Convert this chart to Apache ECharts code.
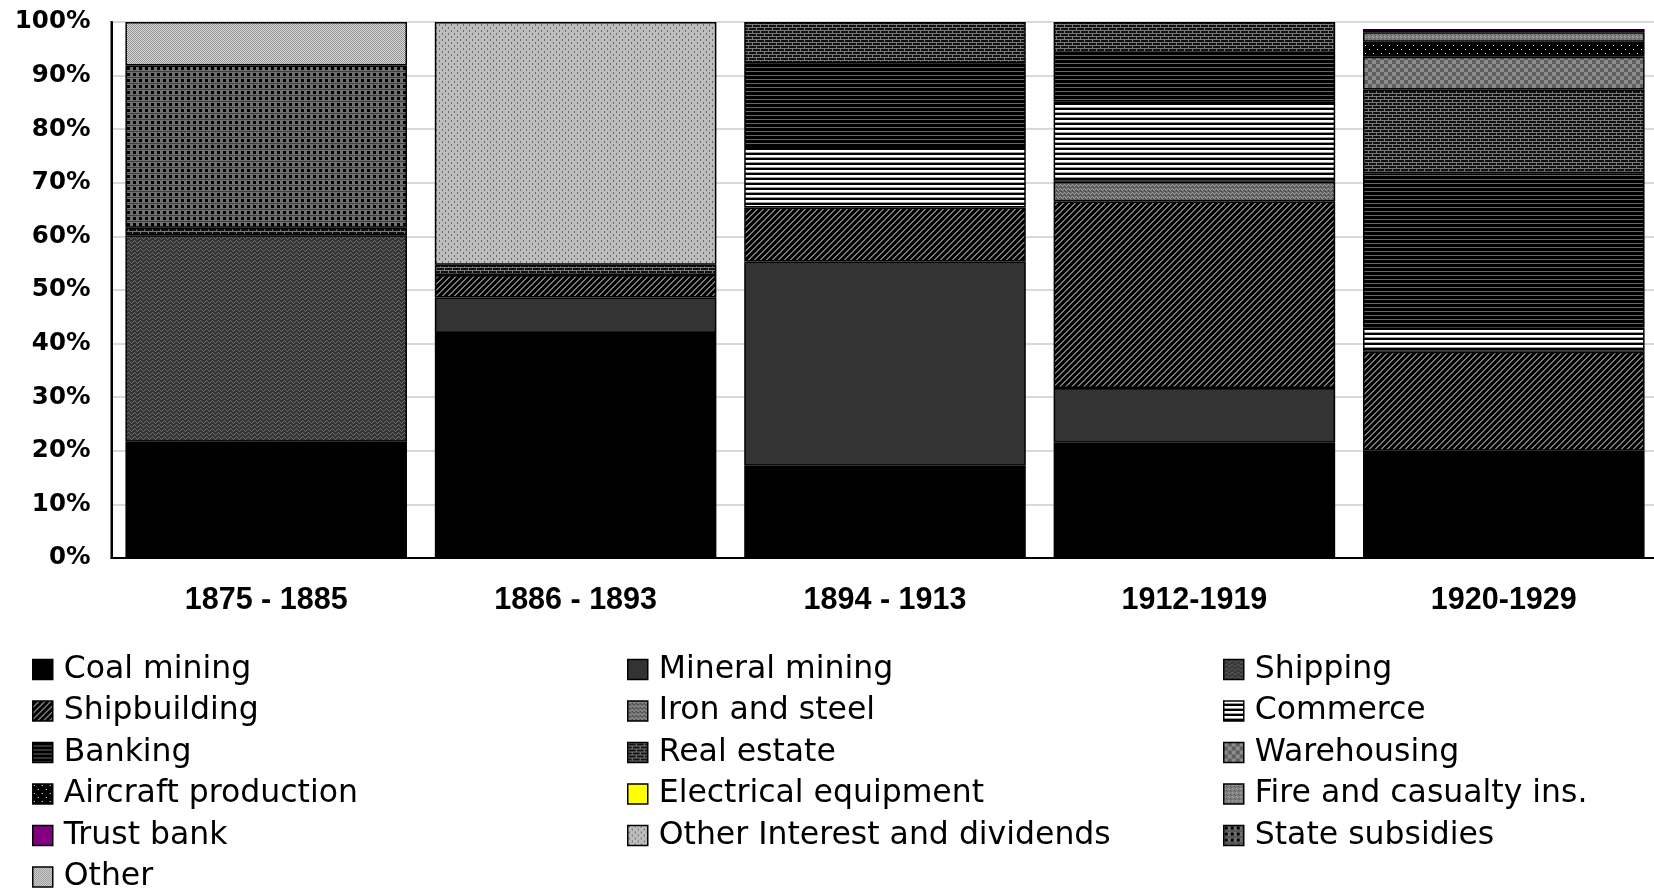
<!DOCTYPE html>
<html>
<head>
<meta charset="utf-8">
<title>Sources of income</title>
<script src="https://cdn.jsdelivr.net/npm/echarts@6/dist/echarts.min.js"></script>
<style>
    html, body { margin: 0; padding: 0; background: #fff; }
    #main { width: 1654px; height: 890px; }
</style>
</head>
<body>
<div id="main"></div>
<script>
// periods on the x axis
var categories = ['1875 - 1885', '1886 - 1893', '1894 - 1913', '1912-1919', '1920-1929'];
var yTicks = [0, 10, 20, 30, 40, 50, 60, 70, 80, 90, 100];

// share of each source, in percent, per period
var coalMining = [21.7, 42.0, 17.2, 21.5, 20.0];
var mineralMining = [0, 6.6, 38.1, 10.2, 0];
var shipping = [38.5, 0, 0, 0, 0];
var shipbuilding = [0, 4.2, 10.1, 34.8, 18.5];
var ironAndSteel = [0, 0, 0, 3.7, 0];
var commerce = [0, 0, 11.1, 14.9, 4.5];
var banking = [0, 0, 15.8, 9.1, 28.8];
var realEstate = [1.4, 1.9, 7.7, 5.8, 15.6];
var warehousing = [0, 0, 0, 0, 6.1];
var aircraftProduction = [0, 0, 0, 0, 2.8];
var electricalEquipment = [0, 0, 0, 0, 0];
var fireCasualty = [0, 0, 0, 0, 1.8];
var trustBank = [0, 0, 0, 0, 0.6];
var otherInterest = [0, 45.3, 0, 0, 0];
var stateSubsidies = [30.3, 0, 0, 0, 0];
var other = [8.1, 0, 0, 0, 0];

var seriesNames = ['Coal mining', 'Mineral mining', 'Shipping', 'Shipbuilding', 'Iron and steel',
    'Commerce', 'Banking', 'Real estate', 'Warehousing', 'Aircraft production',
    'Electrical equipment', 'Fire and casualty ins.', 'Trust bank',
    'Other Interest and dividends', 'State subsidies', 'Other'];
var seriesValues = [coalMining, mineralMining, shipping, shipbuilding, ironAndSteel,
    commerce, banking, realEstate, warehousing, aircraftProduction,
    electricalEquipment, fireCasualty, trustBank, otherInterest, stateSubsidies, other];

// small canvas tiles used as hatch fills (like the Excel patterns)
function tile(w, h, draw) {
    var c = document.createElement('canvas');
    c.width = w;
    c.height = h;
    var ctx = c.getContext('2d');
    draw(ctx);
    return {image: c, repeat: 'repeat'};
}
function px(ctx, color, pts) {
    ctx.fillStyle = color;
    for (var i = 0; i < pts.length; i++) {
        ctx.fillRect(pts[i][0], pts[i][1], pts[i][2] || 1, pts[i][3] || 1);
    }
}

var fills = {
    'Coal mining': '#000000',
    'Mineral mining': '#333333',
    'Shipping': tile(6, 4, function (ctx) {
        px(ctx, '#333333', [[0, 0, 6, 4]]);
        px(ctx, '#6e6e6e', [[0, 2], [1, 1], [2, 0], [3, 1], [4, 2], [5, 3]]);
    }),
    'Shipbuilding': tile(6, 6, function (ctx) {
        px(ctx, '#000000', [[0, 0, 6, 6]]);
        px(ctx, '#7a7a7a', [[5, 0], [4, 1], [3, 2], [2, 3], [1, 4], [0, 5],
            [0, 0], [5, 1], [4, 2], [3, 3], [2, 4], [1, 5]]);
    }),
    'Iron and steel': tile(8, 4, function (ctx) {
        px(ctx, '#666666', [[0, 0, 8, 4]]);
        px(ctx, '#9a9a9a', [[0, 0], [1, 1], [2, 2], [3, 1], [4, 0], [5, 1], [6, 2], [7, 1]]);
        px(ctx, '#4a4a4a', [[0, 2], [1, 3], [4, 2], [5, 3]]);
    }),
    'Commerce': tile(1, 5, function (ctx) {
        px(ctx, '#ffffff', [[0, 0, 1, 2]]);
        px(ctx, '#999999', [[0, 2]]);
        px(ctx, '#000000', [[0, 3, 1, 2]]);
    }),
    'Banking': tile(1, 4, function (ctx) {
        px(ctx, '#000000', [[0, 0, 1, 3]]);
        px(ctx, '#666666', [[0, 3]]);
    }),
    'Real estate': tile(8, 6, function (ctx) {
        px(ctx, '#111111', [[0, 0, 8, 6]]);
        px(ctx, '#7a7a7a', [[0, 0, 8, 1], [0, 3, 8, 1], [0, 1, 1, 2], [4, 4, 1, 2]]);
    }),
    'Warehousing': tile(8, 8, function (ctx) {
        px(ctx, '#5e5e5e', [[0, 0, 8, 8]]);
        px(ctx, '#8c8c8c', [[0, 0, 4, 4], [4, 4, 4, 4]]);
    }),
    'Aircraft production': tile(8, 8, function (ctx) {
        px(ctx, '#000000', [[0, 0, 8, 8]]);
        px(ctx, '#ffffff', [[1, 1], [5, 5]]);
    }),
    'Electrical equipment': '#ffff00',
    'Fire and casualty ins.': tile(4, 4, function (ctx) {
        px(ctx, '#808080', [[0, 0, 4, 4]]);
        px(ctx, '#a8a8a8', [[0, 0], [1, 1]]);
        px(ctx, '#5a5a5a', [[2, 2], [3, 3]]);
    }),
    'Trust bank': '#800080',
    'Other Interest and dividends': tile(6, 6, function (ctx) {
        px(ctx, '#bdbdbd', [[0, 0, 6, 6]]);
        px(ctx, '#6a6a6a', [[1, 0, 1, 2], [4, 3, 1, 2]]);
    }),
    'State subsidies': tile(6, 6, function (ctx) {
        px(ctx, '#707070', [[0, 0, 6, 6]]);
        px(ctx, '#000000', [[1, 1, 3, 3]]);
        px(ctx, '#404040', [[0, 5, 6, 1]]);
    }),
    'Other': tile(2, 2, function (ctx) {
        px(ctx, '#dddddd', [[0, 0, 2, 2]]);
        px(ctx, '#8f8f8f', [[0, 0], [1, 1]]);
    })
};

var font = 'Liberation Sans, Arial, sans-serif';
var wideFont = 'DejaVu Sans, Verdana, sans-serif';

var series = [];
for (var i = 0; i < seriesNames.length; i++) {
    series.push({
        name: seriesNames[i],
        type: 'bar',
        stack: 'total',
        barCategoryGap: '9%',
        itemStyle: {
            color: fills[seriesNames[i]],
            borderColor: '#000',
            borderWidth: 1.5
        },
        emphasis: {disabled: true},
        // empty segments are left out so no stray border lines appear
        data: seriesValues[i].map(function (v) { return v ? v : '-'; })
    });
}

// legend laid out in three columns, filled row by row like the original
function legendColumn(names, left) {
    return {
        orient: 'vertical',
        left: left,
        top: 653.5,
        height: 260,
        padding: 0,
        itemWidth: 20,
        itemHeight: 20,
        itemGap: 9.5,
        icon: 'rect',
        selectedMode: false,
        itemStyle: {borderColor: '#000', borderWidth: 1.5},
        textStyle: {fontFamily: wideFont, fontSize: 31.5, color: '#000', padding: [0, 0, 0, 6]},
        data: names
    };
}
var colNames = [[], [], []];
for (var k = 0; k < seriesNames.length; k++) {
    colNames[k % 3].push(seriesNames[k]);
}

var myChart = echarts.init(document.getElementById('main'));
var option = {
    animation: false,
    backgroundColor: '#fff',
    legend: [
        legendColumn(colNames[0], 32),
        legendColumn(colNames[1], 627),
        legendColumn(colNames[2], 1223)
    ],
    grid: {
        left: 111.5,
        right: -4.5,
        top: 22,
        bottom: 332,
        show: true,
        borderColor: '#000',
        borderWidth: 2,
        containLabel: false,
        outerBoundsMode: 'none'
    },
    xAxis: {
        type: 'category',
        data: categories,
        axisLine: {lineStyle: {color: '#000', width: 2}},
        axisTick: {show: false},
        axisLabel: {
            margin: 27,
            fontFamily: font,
            fontSize: 30.5,
            fontWeight: 'bold',
            color: '#000'
        }
    },
    yAxis: {
        type: 'value',
        min: yTicks[0],
        max: yTicks[yTicks.length - 1],
        interval: yTicks[1] - yTicks[0],
        axisLine: {show: true, lineStyle: {color: '#000', width: 2}},
        axisTick: {show: false},
        splitLine: {lineStyle: {color: '#d9d9d9', width: 2}},
        axisLabel: {
            formatter: '{value}%',
            margin: 21,
            fontFamily: wideFont,
            fontSize: 24.5,
            fontWeight: 'bold',
            color: '#000'
        }
    },
    series: series
};
myChart.setOption(option);
</script>
</body>
</html>
